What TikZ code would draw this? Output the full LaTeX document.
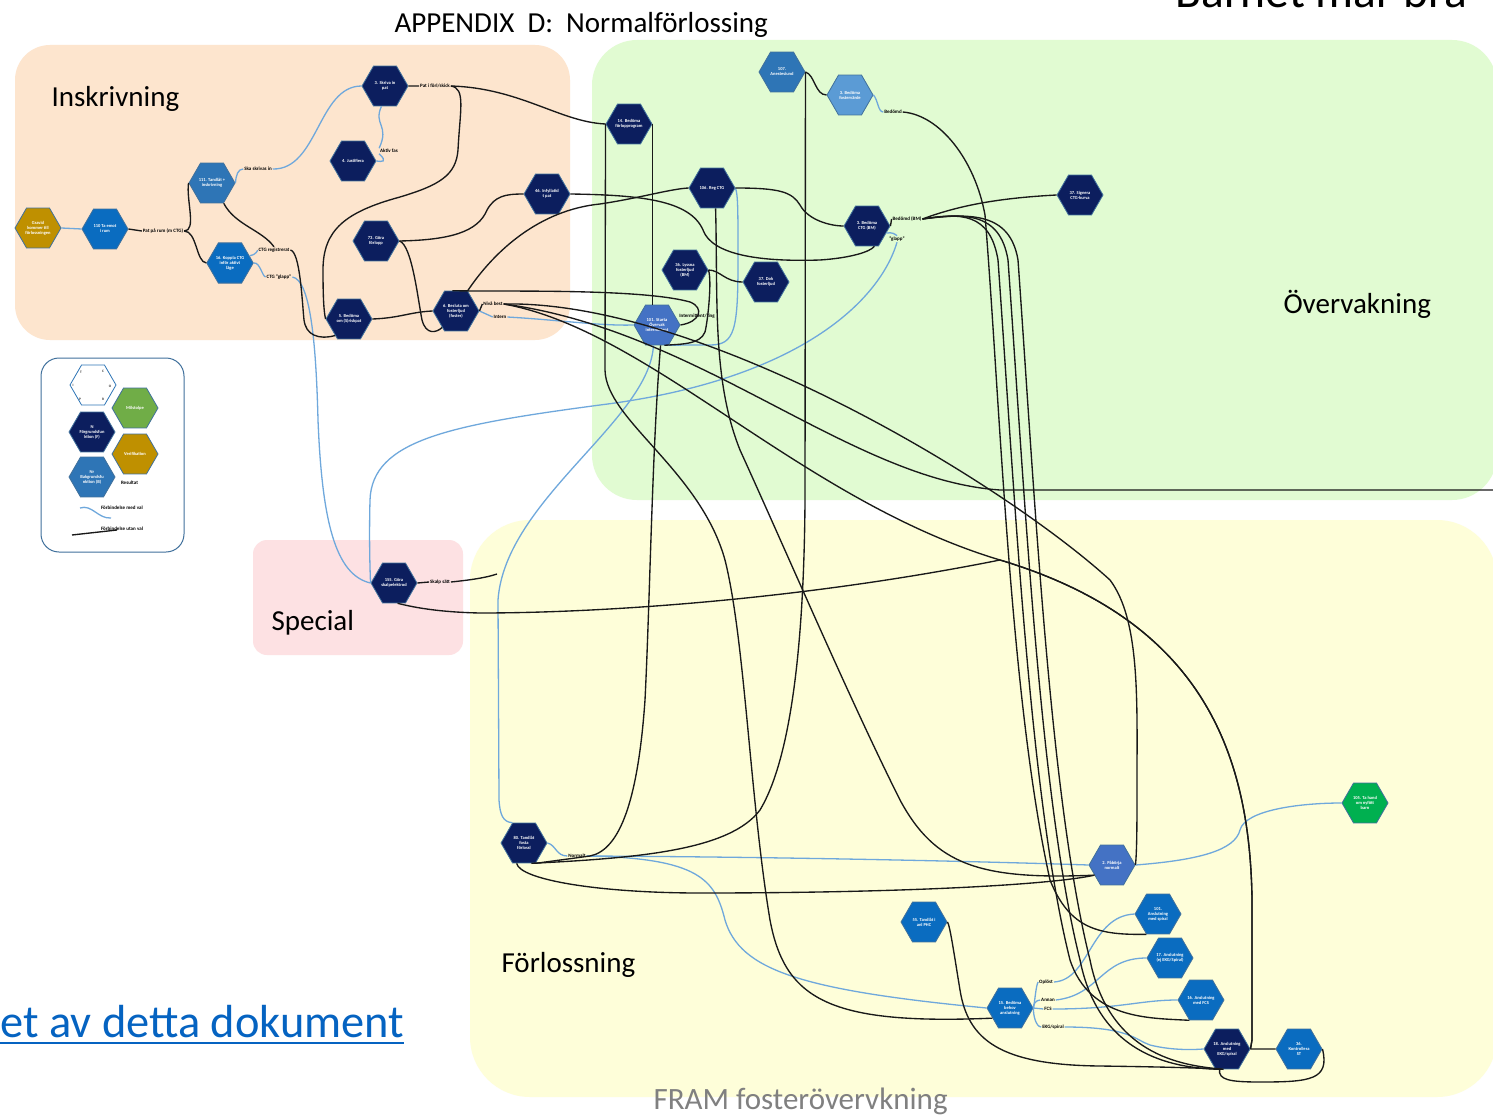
\documentclass[tikz,border=0pt]{standalone}
\usepackage{fontspec}
\setmainfont{Carlito}
\usetikzlibrary{shapes.geometric}
\definecolor{cnavy}{HTML}{0C1E5E}
\definecolor{cblue}{HTML}{0A6CC0}
\definecolor{cmid}{HTML}{2E75B6}
\definecolor{clight}{HTML}{5B9BD5}
\definecolor{cind}{HTML}{4472C4}
\definecolor{cgold}{HTML}{BF9000}
\definecolor{cgreen}{HTML}{00B050}
\definecolor{clgreen}{HTML}{70AD47}
\definecolor{cedge}{HTML}{41719C}
\definecolor{cwire}{HTML}{6FA8DC}
\definecolor{regIns}{HTML}{FDE5CE}
\definecolor{regOve}{HTML}{E1FBD2}
\definecolor{regSpe}{HTML}{FDE1E3}
\definecolor{regFor}{HTML}{FEFED9}
\definecolor{linkblue}{HTML}{0563C1}
\tikzset{
  hexa/.style={regular polygon, regular polygon sides=6, minimum size=46pt, inner sep=0pt,
    draw=cedge, line width=0.8pt, text=white, align=center,
    font=\fontsize{4.5}{5}\selectfont\bfseries},
  hnavy/.style={hexa, fill=cnavy},
  hblue/.style={hexa, fill=cblue},
  hmid/.style={hexa, fill=cmid},
  hlight/.style={hexa, fill=clight},
  hind/.style={hexa, fill=cind},
  hgold/.style={hexa, fill=cgold},
  hgreen/.style={hexa, fill=cgreen},
  lab/.style={font=\fontsize{5}{6}\selectfont\bfseries, inner sep=0.8pt, text=black},
  kw/.style={draw=black!90, line width=1.35pt},
  bw/.style={draw=cwire, line width=1.3pt},
  title/.style={font=\fontsize{29}{30}\selectfont, anchor=base west},
}
\begin{document}
\begin{tikzpicture}[x=1pt,y=-1pt]
\useasboundingbox (0,0) rectangle (1493,1115);
\fill[white] (0,0) rectangle (1493,1115);
% swim-lane areas
\fill[regIns, rounded corners=35pt] (15,45) rectangle (570,340);
\fill[regOve, rounded corners=45pt] (592,40) rectangle (1497,500);
\fill[regSpe, rounded corners=14pt] (253,540) rectangle (463,655);
\fill[regFor, rounded corners=60pt] (470,520) rectangle (1497,1097);

% headings
\node[title] at (391,33) {APPENDIX\ \ D:\ \ Normalförlossing};
\node[font=\fontsize{47.5}{47}\selectfont, anchor=base west] at (1172,8) {Barnet mår bra};
\node[title] at (48,107) {Inskrivning};
\node[title] at (1280,313) {Övervakning};
\node[title] at (268,630) {Special};
\node[title] at (498,972) {Förlossning};
\node[font=\fontsize{31}{31}\selectfont, anchor=base west, text=black!50] at (650,1109) {FRAM fosterövervkning};
\node[font=\fontsize{46.4}{46}\selectfont, anchor=base west, text=linkblue, inner sep=0pt] (lnk) at (0,1037) {et av detta dokument};
\draw[linkblue, line width=1.6pt] ([yshift=-6pt]lnk.base west) -- ([yshift=-6pt]lnk.base east);

% legend
\draw[cedge, line width=1pt, rounded corners=18pt, fill=white] (41,358) rectangle (184,552);
\node[hexa, fill=white, draw=cmid] (lgI) at (93,385) {};
\begin{scope}[font=\fontsize{3.5}{4}\selectfont\bfseries, text=black!80]
\node at (81,372) {T}; \node at (103,371) {C}; \node at (73,385) {I};
\node at (110,386) {O}; \node at (80,399) {P}; \node at (103,399) {R};
\end{scope}
\node[hexa, fill=clgreen] (lgM) at (135,408) {Milstolpe};
\node[hnavy] (lgF) at (92,432) {N\\Förgrundsfun\\ktion (F)};
\node[hgold] (lgV) at (135,454) {Verifikation};
\node[hmid] (lgB) at (92,477) {Nr\\Bakgrundsfu\\nktion (B)};
\node[lab, anchor=west] (lgR) at (120,483) {Resultat};
\coordinate (lgw1) at (80,508); \coordinate (lgw2) at (111,518);
\coordinate (lgk1) at (72,535); \coordinate (lgk2) at (117,530);
\draw[bw] (lgw1) .. controls (92,504) and (98,519) .. (lgw2);
\draw[kw] (lgk1) -- (lgk2);
\node[lab, anchor=west] at (100,508) {Förbindelse med val};
\node[lab, anchor=west] at (100,529) {Förbindelse utan val};

% process steps
\node[hgold] (g0) at (38,228) {Gravid\\kommer till\\förlossningen};
\node[hblue] (n110) at (105,229) {110 Ta emot\\i rum};
\node[hmid] (n111) at (212,183) {111. Tandlåt +\\inskrivning};
\node[hblue] (n16k) at (230,263) {16. Koppla CTG\\inför aktivt\\läge};
\node[hnavy] (n3s) at (385,86) {3. Skriva in\\pat};
\node[hnavy] (n4) at (353,161) {4. Justifiera};
\node[hnavy] (n73) at (376,241) {73. Göra\\förlopp};
\node[hnavy] (n5b) at (349,319) {5. Bedöma\\om (S)riskpat};
\node[hnavy] (n6b) at (456,311) {6. Besluta om\\fosterljud\\(foster)};
\node[hnavy] (n46) at (547,194) {46. Infyllatid\\t pat};
\node[hnavy] (n14) at (629,124) {14. Bedöma\\förlopprogram};
\node[hmid] (n107) at (782,72) {107.\\Anestesiund};
\node[hlight] (n3f) at (850,95) {3. Bedöma\\fostervärde};
\node[hnavy] (n106) at (712,188) {106. Reg CTG};
\node[hnavy] (n3c) at (867,226) {3. Bedöma\\CTG (BM)};
\node[hnavy] (n37s) at (1080,195) {37. Signera\\CTG-kurva};
\node[hnavy] (n36l) at (685,270) {36. Lyssna\\fosterljud\\(BM)};
\node[hnavy] (n37d) at (766,282) {37. Dok\\fosterljud};
\node[hind] (n101s) at (657,325) {101. Starta\\Övervak\\intermittent};
\node[hnavy] (n155) at (394,583) {155. Göra\\skalpelektrod};
\node[hnavy] (n80) at (524,843) {80. Tandlåt\\fosta\\förlossl};
\node[hind] (n2p) at (1112,865) {2. Påbörja\\normalt};
\node[hgreen] (n105) at (1365,803) {105. Ta hand\\om nyfött\\barn};
\node[hblue] (n55) at (924,922) {55. Tandlåt i\\anl PHC};
\node[hblue] (n101a) at (1158,914) {101.\\Anslutning\\med spiral};
\node[hblue] (n17) at (1170,958) {17. Anslutning\\(ej EKG/Spiral)};
\node[hblue] (n16f) at (1201,1000) {16. Anslutning\\med FCS};
\node[hblue] (n15) at (1010,1008) {15. Bedöma\\behov\\anslutning};
\node[hnavy] (n18) at (1227,1049) {18. Anslutning\\med\\EKG/spiral};
\node[hblue] (n36k) at (1299,1049) {36.\\Kontrollera\\ST};

% connector labels
\node[lab] (lPat) at (163,231) {Pat på rum (m CTG)};
\node[lab] (lSka) at (258,169) {Ska skrivas in};
\node[lab] (lPef) at (435,86) {Pat i förl/skick};
\node[lab] (lAkt) at (389,151) {Aktiv fas};
\node[lab] (lCTGr) at (274,250) {CTG registrerat};
\node[lab] (lCTGg) at (279,277) {CTG "glapp"};
\node[lab] (lNiv) at (493,304) {Nivå best};
\node[lab] (lInt) at (500,317) {Intern};
\node[lab] (lIntm) at (697,316) {Intermittent/ting};
\node[lab] (lBed) at (893,112) {Bedömd};
\node[lab] (lBed2) at (907,219) {Bedömd (BM)};
\node[lab] (lGl2) at (897,239) {"glapp"};
\node[lab] (lSk) at (440,582) {Skalp sätt};
\node[lab] (lNorm) at (577,856) {Normalt};
\node[lab] (lOpl) at (1046,982) {Oplöst};
\node[lab] (lAnn) at (1048,1000) {Annan};
\node[lab] (lFCS) at (1048,1009) {FCS};
\node[lab] (lEKG) at (1053,1027) {EKG/spiral};
\coordinate (offR) at (1500,490);
\coordinate (jSk) at (497,574);

\begin{scope}[on background layer/.try]
% connections with a choice
\draw[bw] (g0.east) -- (n110.west);
\draw[bw] (n111.east) .. controls (236,175) and (238,169) .. (lSka.west);
\draw[bw] (lSka.east) .. controls (318,170) and (318,86) .. (n3s.west);
\draw[bw] (n3s.-100) .. controls (373,125) and (390,125) .. (lAkt.north west);
\draw[bw] (lAkt.south west) .. controls (388,162) and (382,162) .. (n4.east);
\draw[bw] (n16k.east) .. controls (260,262) and (262,276) .. (lCTGg.west);
\draw[bw] (n16k.20) .. controls (256,255) and (258,250) .. (lCTGr.west);
\draw[bw] (lCTGg.east) .. controls (310,280) and (316,340) .. (318,420)
  .. controls (322,520) and (335,575) .. (n155.west);
\draw[bw] (n3c.-20) .. controls (892,232) and (895,234) .. (lGl2.north);
\draw[bw] (lGl2.south) .. controls (880,300) and (800,380) .. (600,405)
  .. controls (450,425) and (372,440) .. (370,500) .. controls (369,540) and (370,570) .. (n155.west);
\draw[bw] (n6b.east) -- (lInt.west);
\draw[bw] (lInt.east) .. controls (560,320) and (600,326) .. (n101s.west);
\draw[bw] (n106.east) .. controls (738,195) and (738,210) .. (738,260)
  .. controls (738,330) and (735,345) .. (710,345) .. controls (695,345) and (680,345) .. (n101s.-60);
\draw[bw] (n3f.east) .. controls (878,100) and (878,112) .. (lBed.west);
\draw[bw] (n101s.-100) .. controls (650,420) and (505,500) .. (498,600) -- (499,800)
  .. controls (500,815) and (503,822) .. (n80.120);
\draw[bw] (n80.east) .. controls (556,845) and (556,856) .. (lNorm.west);
\draw[bw] (lNorm.east) .. controls (800,857) and (1000,862) .. (n2p.west);
\draw[bw] (lNorm.east) .. controls (700,858) and (715,880) .. (725,920)
  .. controls (740,970) and (800,990) .. (n15.west);
\draw[bw] (n2p.east) .. controls (1200,860) and (1235,850) .. (1240,830)
  .. controls (1245,810) and (1300,803) .. (n105.west);
\draw[bw] (n15.east) .. controls (1035,1000) and (1036,985) .. (lOpl.west);
\draw[bw] (lOpl.east) .. controls (1090,980) and (1090,916) .. (n101a.west);
\draw[bw] (n15.east) .. controls (1033,1004) and (1036,1000) .. (lAnn.west);
\draw[bw] (lAnn.east) .. controls (1100,995) and (1100,958) .. (n17.west);
\draw[bw] (n15.east) -- (lFCS.west);
\draw[bw] (lFCS.east) .. controls (1120,1009) and (1140,1000) .. (n16f.west);
\draw[bw] (n15.east) .. controls (1033,1015) and (1036,1027) .. (lEKG.west);
\draw[bw] (lEKG.east) .. controls (1130,1027) and (1135,1040) .. (1150,1045)
  .. controls (1170,1050) and (1190,1050) .. (n18.west);

% connections without a choice
\draw[kw] (n110.east) -- (lPat.west);
\draw[kw] (lPat.east) .. controls (197,231) and (186,200) .. (n111.west);
\draw[kw] (lPat.east) .. controls (197,231) and (196,262) .. (n16k.west);
\draw[kw] (n111.-60) .. controls (235,225) and (262,230) .. (lCTGr.north);
\draw[kw] (lCTGr.east) .. controls (300,252) and (302,300) .. (304,320)
  .. controls (306,335) and (318,340) .. (n5b.-130);
\draw[kw] (n3s.east) -- (lPef.west);
\draw[kw] (lPef.east) .. controls (520,88) and (560,122) .. (n14.west);
\draw[kw] (lPef.east) .. controls (466,88) and (460,110) .. (458,150)
  .. controls (456,175) and (440,185) .. (400,197) .. controls (345,212) and (323,230) .. (323,270)
  .. controls (323,300) and (324,312) .. (n5b.west);
\draw[kw] (n73.east) .. controls (450,240) and (478,232) .. (487,210)
  .. controls (495,196) and (505,194) .. (n46.west);
\draw[kw] (n73.east) .. controls (412,245) and (418,300) .. (422,320)
  .. controls (426,335) and (436,333) .. (n6b.-130);
\draw[kw] (n5b.east) .. controls (400,318) and (410,312) .. (n6b.west);
\draw[kw] (n6b.60) .. controls (495,250) and (540,210) .. (600,204)
  .. controls (640,198) and (670,189) .. (n106.west);
\draw[kw] (n46.east) .. controls (640,195) and (690,200) .. (703,230)
  .. controls (712,255) and (760,262) .. (820,260) .. controls (850,258) and (870,252) .. (n3c.-70);
\draw[kw] (n106.east) .. controls (780,188) and (792,192) .. (800,205)
  .. controls (808,220) and (830,226) .. (n3c.west);
\draw[kw] (n6b.100) .. controls (500,292) and (640,288) .. (690,302)
  .. controls (705,308) and (700,322) .. (n101s.east);
\draw[kw] (n6b.east) -- (lNiv.west);
\draw[kw] (n107.east) .. controls (815,75) and (815,95) .. (n3f.west);
\draw[kw] (n3c.east) -- (lBed2.west);
\draw[kw] (lBed2.east) .. controls (960,205) and (1000,198) .. (n37s.west);
\draw[kw] (n36l.east) .. controls (720,270) and (725,282) .. (n37d.west);
\draw[kw] (n36l.east) .. controls (712,280) and (708,320) .. (705,332)
  .. controls (700,345) and (680,344) .. (n101s.-70);
\draw[kw] (n14.east) -- (n14.east |- n101s.north);
% long runs down to the delivery steps
\draw[kw] (n14.west) -- (605,370) .. controls (606,420) and (700,470) .. (725,560)
  .. controls (745,640) and (750,800) .. (770,920) .. controls (785,1000) and (830,1025) .. (n15.-150);
\draw[kw] (n101s.-80) .. controls (652,450) and (650,600) .. (645,700)
  .. controls (638,800) and (620,850) .. (590,856) -- (n80.-60);
\draw[kw] (n107.east) -- (805,500) .. controls (804,650) and (790,760) .. (760,810)
  .. controls (730,850) and (640,858) .. (n80.-70);
\draw[kw] (n106.-80) .. controls (718,300) and (712,380) .. (740,450)
  .. controls (790,560) and (850,700) .. (900,800) .. controls (935,865) and (980,880) .. (n2p.-150);
\draw[kw] (n80.-110) .. controls (520,880) and (600,893) .. (700,893)
  .. controls (900,893) and (1050,885) .. (n2p.-150);
\draw[kw] (lNiv.east) .. controls (700,300) and (1000,480) .. (1110,580)
  .. controls (1140,620) and (1137,700) .. (1137,780) .. controls (1137,820) and (1137,850) .. (n2p.east);
\draw[kw] (lNiv.east) .. controls (700,330) and (850,480) .. (1000,490) -- (offR);
\draw[kw] (lNiv.east) .. controls (650,330) and (800,500) .. (1000,560)
  .. controls (1200,620) and (1250,750) .. (1252,900) -- (1252,1040) -- (n18.east);
\draw[kw] (lBed.east) .. controls (940,115) and (975,160) .. (985,215)
  .. controls (1000,400) and (1010,700) .. (1050,880) .. controls (1070,930) and (1100,935) .. (n101a.-120);
\draw[kw] (lBed2.east) .. controls (960,213) and (990,212) .. (998,260)
  .. controls (1015,500) and (1030,800) .. (1070,960) .. controls (1090,1020) and (1150,1018) .. (n16f.-120);
\draw[kw] (lBed2.east) .. controls (965,213) and (1000,212) .. (1008,260)
  .. controls (1025,500) and (1040,800) .. (1080,960) .. controls (1100,1060) and (1180,1068) .. (n18.-110);
\draw[kw] (lBed2.east) .. controls (970,213) and (1010,212) .. (1018,260)
  .. controls (1035,500) and (1050,800) .. (1090,960) .. controls (1110,1060) and (1190,1066) .. (n18.-100);
\draw[kw] (n55.east) .. controls (950,925) and (955,960) .. (960,990)
  .. controls (968,1040) and (1000,1065) .. (1100,1066) .. controls (1170,1067) and (1200,1068) .. (n18.-100);
\draw[kw] (n18.east) -- (n36k.west);
\draw[kw] (n18.-110) .. controls (1218,1080) and (1230,1082) .. (1260,1082)
  .. controls (1310,1082) and (1330,1080) .. (n36k.east);
\draw[kw] (n155.east) -- (lSk.west);
\draw[kw] (lSk.east) .. controls (470,580) and (485,578) .. (jSk);
\draw[kw] (n155.-80) .. controls (405,605) and (430,612) .. (480,613)
  .. controls (600,613) and (800,600) .. (1000,560)
  .. controls (1200,620) and (1250,750) .. (1252,900) -- (1252,1040) -- (n18.east);
\end{scope}
\end{tikzpicture}
\end{document}
